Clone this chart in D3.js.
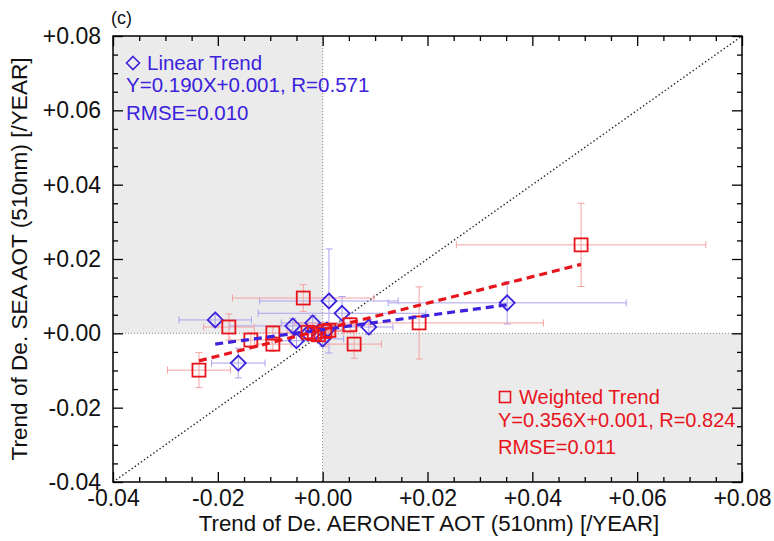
<!DOCTYPE html>
<html>
<head>
<meta charset="utf-8">
<script src="https://cdn.jsdelivr.net/npm/d3@7"></script>
<style>
  html, body { margin: 0; padding: 0; background: #fff; }
  svg { display: block; font-family: "Liberation Sans", Arial, Helvetica, sans-serif; }
</style>
</head>
<body>
<svg id="chart" width="774" height="541"></svg>
<script>
(function () {
  "use strict";

  // weighted trend (red squares): x, y, x error, y error
  var weightedX    = [0.0493, 0.0184, -0.0037, -0.0179, -0.0137, -0.0095, -0.0095, -0.0236, 0.0060, 0.0052, -0.0028, -0.0008, 0.0004, 0.0012, -0.0016];
  var weightedY    = [0.0238, 0.0028, 0.0095, 0.0017, -0.0018, 0.0001, -0.0029, -0.0099, -0.0029, 0.0023, 0.0003, -0.0004, 0.0005, 0.0008, -0.0001];
  var weightedXErr = [0.0238, 0.0237, 0.0135, 0.0048, 0.0040, 0.0035, 0.0035, 0.0060, 0.0052, 0.0040, 0.0040, 0.0030, 0.0035, 0.0030, 0.0030];
  var weightedYErr = [0.0112, 0.0097, 0.0036, 0.0035, 0.0020, 0.0020, 0.0020, 0.0047, 0.0038, 0.0020, 0.0015, 0.0015, 0.0015, 0.0012, 0.0012];

  // linear trend (blue diamonds)
  var linearX    = [0.0352, 0.0012, 0.0037, -0.0205, -0.0161, 0.0088, -0.0057, -0.0019, -0.0050, 0.0000, 0.0008, -0.0028];
  var linearY    = [0.0082, 0.0087, 0.0054, 0.0036, -0.0080, 0.0017, 0.0020, 0.0028, -0.0020, -0.0015, 0.0009, 0.0000];
  var linearXErr = [0.0227, 0.0132, 0.0160, 0.0069, 0.0051, 0.0046, 0.0120, 0.0060, 0.0040, 0.0040, 0.0030, 0.0030];
  var linearYErr = [0.0057, 0.0140, 0.0045, 0.0015, 0.0040, 0.0020, 0.0020, 0.0020, 0.0015, 0.0020, 0.0012, 0.0012];

  // fitted lines: slope, intercept, x range
  var linearFit = { slope: 0.190, intercept: 0.001, from: -0.0205, to: 0.0352 };
  var weightedFit = { slope: 0.356, intercept: 0.001, from: -0.0236, to: 0.0493 };

  var majorTicks = [-0.04, -0.02, 0.00, 0.02, 0.04, 0.06, 0.08];
  var minorTicks = [-0.035, -0.03, -0.025, -0.015, -0.01, -0.005, 0.005, 0.01, 0.015, 0.025, 0.03, 0.035,
                    0.045, 0.05, 0.055, 0.065, 0.07, 0.075];

  var RED = "#e8141c", RED_LIGHT = "#f2a2a2";
  var BLUE = "#3b22dc", BLUE_LIGHT = "#aaa2ee";
  var SHADE = "#ebebeb";

  var left = 113, right = 742, top = 36, bottom = 482;
  var x = d3.scaleLinear().domain([-0.04, 0.08]).range([left, right]);
  var y = d3.scaleLinear().domain([-0.04, 0.08]).range([bottom, top]);

  function label(d) {
    var s = Math.abs(d).toFixed(2);
    return (d < -1e-9 ? "-" : "+") + s;
  }

  var svg = d3.select("#chart");

  // shaded quadrants
  svg.append("rect").attr("x", x(-0.04)).attr("y", y(0.08))
    .attr("width", x(0) - x(-0.04)).attr("height", y(0) - y(0.08)).attr("fill", SHADE);
  svg.append("rect").attr("x", x(0)).attr("y", y(0))
    .attr("width", x(0.08) - x(0)).attr("height", y(-0.04) - y(0)).attr("fill", SHADE);

  // zero lines and 1:1 line
  svg.append("line").attr("x1", x(0)).attr("x2", x(0)).attr("y1", top).attr("y2", bottom)
    .attr("stroke", "#888").attr("stroke-width", 1).attr("stroke-dasharray", "1,2");
  svg.append("line").attr("x1", left).attr("x2", right).attr("y1", y(0)).attr("y2", y(0))
    .attr("stroke", "#888").attr("stroke-width", 1).attr("stroke-dasharray", "1,2");
  svg.append("line").attr("x1", x(-0.04)).attr("y1", y(-0.04)).attr("x2", x(0.08)).attr("y2", y(0.08))
    .attr("stroke", "#222").attr("stroke-width", 1.4).attr("stroke-dasharray", "1.4,2.4");

  function rows(xs, ys, xe, ye) {
    return xs.map(function (v, i) { return { x: v, y: ys[i], xe: xe[i], ye: ye[i] }; });
  }
  var weighted = rows(weightedX, weightedY, weightedXErr, weightedYErr);
  var linear = rows(linearX, linearY, linearXErr, linearYErr);

  function errorBars(data, color) {
    var g = svg.append("g").attr("stroke", color).attr("stroke-width", 1).attr("fill", "none");
    var cap = 3.5;
    data.forEach(function (d) {
      var cx = x(d.x), cy = y(d.y);
      var x0 = x(d.x - d.xe), x1 = x(d.x + d.xe), y0 = y(d.y - d.ye), y1 = y(d.y + d.ye);
      g.append("path").attr("d",
        "M" + x0 + "," + cy + "H" + x1 +
        "M" + x0 + "," + (cy - cap) + "V" + (cy + cap) +
        "M" + x1 + "," + (cy - cap) + "V" + (cy + cap) +
        "M" + cx + "," + y0 + "V" + y1 +
        "M" + (cx - cap) + "," + y0 + "H" + (cx + cap) +
        "M" + (cx - cap) + "," + y1 + "H" + (cx + cap));
    });
  }
  errorBars(linear, BLUE_LIGHT);
  errorBars(weighted, RED_LIGHT);

  // markers
  svg.append("g").selectAll("path").data(linear).join("path")
    .attr("d", function (d) {
      var cx = x(d.x), cy = y(d.y), r = 7.5;
      return "M" + cx + "," + (cy - r) + "L" + (cx + r) + "," + cy + "L" + cx + "," + (cy + r) + "L" + (cx - r) + "," + cy + "Z";
    })
    .attr("fill", "none").attr("stroke", BLUE).attr("stroke-width", 1.8);
  svg.append("g").selectAll("rect").data(weighted).join("rect")
    .attr("x", function (d) { return x(d.x) - 6.5; })
    .attr("y", function (d) { return y(d.y) - 6.5; })
    .attr("width", 13).attr("height", 13)
    .attr("fill", "none").attr("stroke", RED).attr("stroke-width", 1.8);

  // regression lines
  function fitLine(fit, color) {
    svg.append("line")
      .attr("x1", x(fit.from)).attr("y1", y(fit.slope * fit.from + fit.intercept))
      .attr("x2", x(fit.to)).attr("y2", y(fit.slope * fit.to + fit.intercept))
      .attr("stroke", color).attr("stroke-width", 3.2).attr("stroke-dasharray", "8,5");
  }
  fitLine(linearFit, BLUE);
  fitLine(weightedFit, RED);

  // axes
  function ticksOn(axis, transform, size, values, withLabels) {
    var g = svg.append("g").attr("transform", transform)
      .call(axis.tickValues(values).tickSizeInner(size).tickSizeOuter(0)
        .tickPadding(withLabels ? 8 : 0)
        .tickFormat(withLabels ? label : ""));
    g.select(".domain").remove();
    g.selectAll("line").attr("stroke", "#000").attr("stroke-width", 1.3);
    g.selectAll("text").attr("fill", "#111").attr("font-size", 23)
      .attr("font-family", "'Liberation Sans', Arial, sans-serif");
    return g;
  }
  ticksOn(d3.axisBottom(x), "translate(0," + bottom + ")", -10, majorTicks, true);
  ticksOn(d3.axisBottom(x), "translate(0," + bottom + ")", -5, minorTicks, false);
  ticksOn(d3.axisTop(x), "translate(0," + top + ")", -10, majorTicks, false);
  ticksOn(d3.axisTop(x), "translate(0," + top + ")", -5, minorTicks, false);
  var yl = ticksOn(d3.axisLeft(y), "translate(" + left + ",0)", -10, majorTicks, true);
  yl.selectAll("text").attr("x", -12);
  ticksOn(d3.axisLeft(y), "translate(" + left + ",0)", -5, minorTicks, false);
  ticksOn(d3.axisRight(y), "translate(" + right + ",0)", -10, majorTicks, false);
  ticksOn(d3.axisRight(y), "translate(" + right + ",0)", -5, minorTicks, false);

  svg.append("rect").attr("x", left).attr("y", top)
    .attr("width", right - left).attr("height", bottom - top)
    .attr("fill", "none").attr("stroke", "#000").attr("stroke-width", 1.5);

  // titles
  svg.append("text").attr("x", 111).attr("y", 24).attr("font-size", 18).attr("fill", "#111").text("(c)");
  svg.append("text").attr("x", 429).attr("y", 531)
    .attr("text-anchor", "middle").attr("font-size", 22.3).attr("fill", "#111")
    .text("Trend of De. AERONET AOT (510nm) [/YEAR]");
  svg.append("text").attr("transform", "translate(27,259) rotate(-90)")
    .attr("text-anchor", "middle").attr("font-size", 22.6).attr("fill", "#111")
    .text("Trend of De. SEA AOT (510nm) [/YEAR]");

  // legends
  function legend(lines, color, x0, y0, size, gaps, symbol) {
    var g = svg.append("g").attr("fill", color).attr("font-size", size);
    lines.forEach(function (t, i) {
      g.append("text").attr("x", x0 + (i === 0 ? 21 : 0)).attr("y", y0 + gaps[i]).text(t);
    });
    var sx = x0 + 7, sy = y0 - 7;
    if (symbol === "diamond") {
      g.append("path").attr("d", "M" + sx + "," + (sy - 6.5) + "L" + (sx + 6.5) + "," + sy + "L" + sx + "," + (sy + 6.5) + "L" + (sx - 6.5) + "," + sy + "Z")
        .attr("fill", "none").attr("stroke", color).attr("stroke-width", 1.6);
    } else {
      g.append("rect").attr("x", sx - 5.5).attr("y", sy - 5.5).attr("width", 11).attr("height", 11)
        .attr("fill", "none").attr("stroke", color).attr("stroke-width", 1.6);
    }
  }
  legend(["Linear Trend", "Y=0.190X+0.001, R=0.571", "RMSE=0.010"], BLUE, 126, 70, 20.5, [0, 22, 50], "diamond");
  legend(["Weighted Trend", "Y=0.356X+0.001, R=0.824", "RMSE=0.011"], RED, 498, 404, 20, [0, 23, 50], "square");
})();
</script>
</body>
</html>
